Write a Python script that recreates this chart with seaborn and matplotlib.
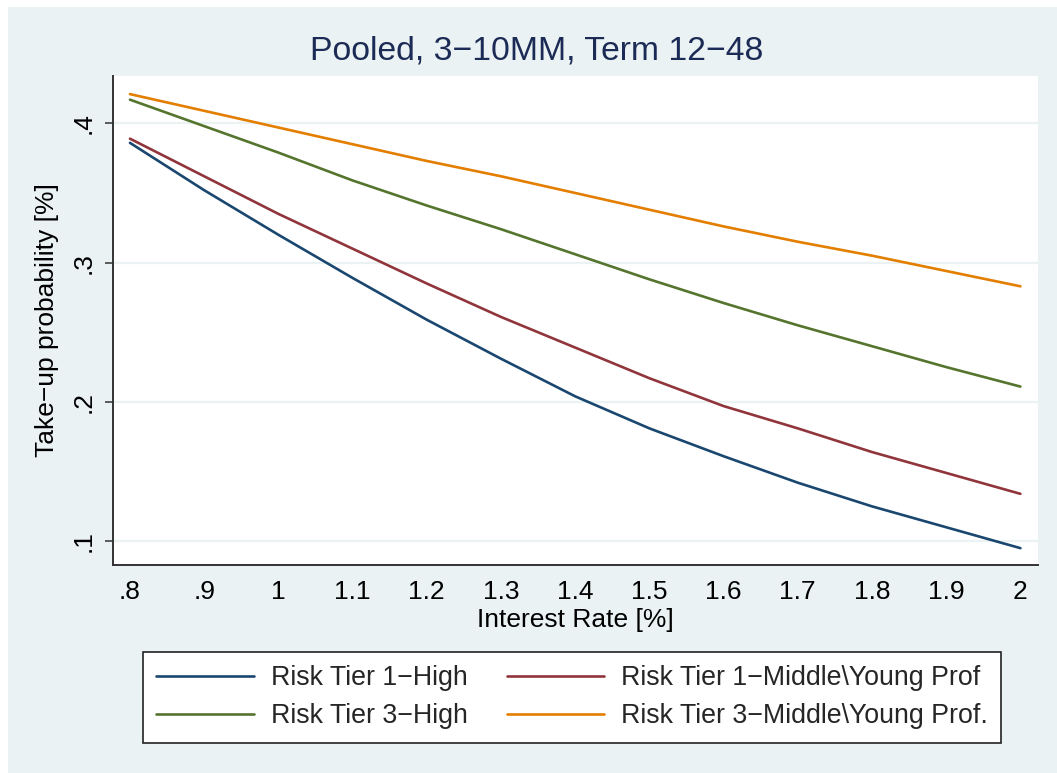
import numpy as np
import pandas as pd
import matplotlib
matplotlib.use("Agg")
import matplotlib.pyplot as plt
from matplotlib.patches import Rectangle
import seaborn as sns

# Interest rate grid (percent)
rates = [0.8, 0.9, 1.0, 1.1, 1.2, 1.3, 1.4, 1.5, 1.6, 1.7, 1.8, 1.9, 2.0]

# Predicted take-up probability by risk segment
tier1_high = [0.386, 0.352, 0.320, 0.289, 0.259, 0.231, 0.204, 0.181, 0.161, 0.142, 0.125, 0.110, 0.095]
tier1_mid = [0.389, 0.362, 0.335, 0.310, 0.285, 0.261, 0.239, 0.217, 0.197, 0.181, 0.164, 0.149, 0.134]
tier3_high = [0.417, 0.398, 0.379, 0.359, 0.341, 0.324, 0.306, 0.288, 0.271, 0.255, 0.240, 0.225, 0.211]
tier3_mid = [0.421, 0.409, 0.397, 0.385, 0.373, 0.362, 0.350, 0.338, 0.326, 0.315, 0.305, 0.294, 0.283]

series_names = [
    "Risk Tier 1\u2212High",
    "Risk Tier 1\u2212Middle\\Young Prof",
    "Risk Tier 3\u2212High",
    "Risk Tier 3\u2212Middle\\Young Prof.",
]
series_colors = ["#1a476f", "#90353b", "#55752f", "#e37e00"]

x_ticks = [0.8, 0.9, 1.0, 1.1, 1.2, 1.3, 1.4, 1.5, 1.6, 1.7, 1.8, 1.9, 2.0]
x_tick_labels = [".8", ".9", "1", "1.1", "1.2", "1.3", "1.4", "1.5", "1.6", "1.7", "1.8", "1.9", "2"]
y_ticks = [0.1, 0.2, 0.3, 0.4]
y_tick_labels = [".1", ".2", ".3", ".4"]

title_text = "Pooled, 3\u221210MM, Term 12\u221248"
x_label = "Interest Rate [%]"
y_label = "Take\u2212up probability [%]"

df = pd.concat(
    [
        pd.DataFrame({"rate": rates, "prob": vals, "segment": name})
        for name, vals in zip(series_names, [tier1_high, tier1_mid, tier3_high, tier3_mid])
    ],
    ignore_index=True,
)

sns.set_theme(style="white")
plt.rcParams["font.family"] = ["Liberation Sans", "DejaVu Sans"]

W, H = 1057, 773
fig = plt.figure(figsize=(W / 100, H / 100), dpi=100, facecolor="white")

# Light bluish-gray graph region
fig.patches.append(
    Rectangle((8 / W, 0), 1 - 8 / W, 1 - 7 / H, transform=fig.transFigure,
              facecolor="#eaf2f3", edgecolor="none", zorder=-10)
)

left, right, top, bottom = 113, 1038, 76, 565
ax = fig.add_axes([left / W, 1 - bottom / H, (right - left) / W, (bottom - top) / H])
ax.set_facecolor("white")

sns.lineplot(
    data=df, x="rate", y="prob", hue="segment", hue_order=series_names,
    palette=series_colors, linewidth=1.9, ax=ax, legend=False, sort=False,
)

ax.set_xlim(0.7771, 2.0237)
ax.set_ylim(0.0829, 0.4340)

ax.set_xticks(x_ticks)
ax.set_xticklabels(x_tick_labels)
ax.set_yticks(y_ticks)
ax.set_yticklabels(y_tick_labels, rotation=90, va="center")

ax.grid(axis="y", color="#eaf2f3", linewidth=1.6)
ax.grid(axis="x", visible=False)
ax.set_axisbelow(True)

for side in ["top", "right"]:
    ax.spines[side].set_visible(False)
for side in ["left", "bottom"]:
    ax.spines[side].set_color("#333333")
    ax.spines[side].set_linewidth(1.4)

ax.tick_params(axis="both", which="major", direction="out", length=5.5, width=1.1,
               color="#333333", labelsize=19, labelcolor="black")
ax.tick_params(axis="x", pad=5)
ax.tick_params(axis="y", pad=7, left=True)

ax.set_xlabel(x_label, fontsize=19, color="black", labelpad=3)
ax.set_ylabel(y_label, fontsize=19, color="black", labelpad=9)

fig.text(537 / W, 1 - 51 / H, title_text, ha="center", va="center",
         fontsize=24.3, color="#1c2b55")

# Legend box below the plot, filled row by row
handles = [plt.Line2D([0], [0], color=c, linewidth=1.9) for c in series_colors]
order = [0, 2, 1, 3]
leg = fig.legend(
    [handles[i] for i in order], [series_names[i] for i in order],
    loc="upper left", ncol=2,
    bbox_to_anchor=(143 / W, 1 - 652 / H),
    fontsize=19.3, frameon=True, fancybox=False, handlelength=3.65,
    handletextpad=0.62, columnspacing=1.45, borderpad=0.5, labelspacing=0.45,
    borderaxespad=0,
)
frame = leg.get_frame()
frame.set_edgecolor("#222222")
frame.set_linewidth(1.2)
frame.set_facecolor("white")
frame.set_alpha(1)

fig.savefig("out.png", dpi=100, facecolor=fig.get_facecolor())
